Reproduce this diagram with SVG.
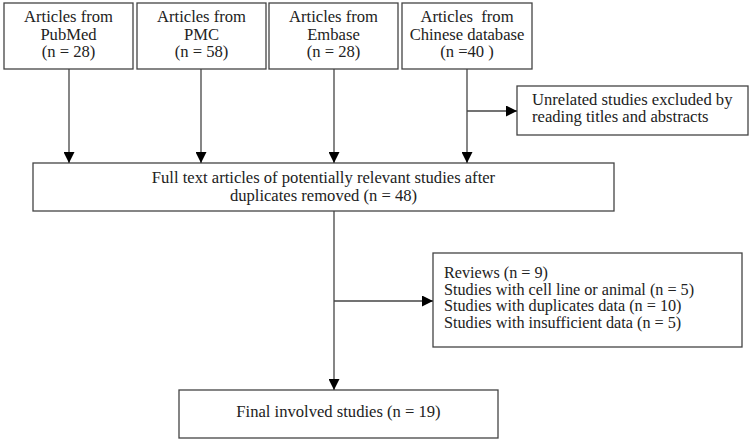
<svg xmlns="http://www.w3.org/2000/svg" width="753" height="443" viewBox="0 0 753 443">
<defs>
<marker id="ah" markerWidth="11" markerHeight="11" refX="11" refY="5.5" orient="auto" markerUnits="userSpaceOnUse">
<path d="M0,0 L11,5.5 L0,11 Z" fill="#000"/>
</marker>
<style>
rect{fill:#fff;stroke:#444;stroke-width:1.3}
text{font-family:"Liberation Serif","Times New Roman",serif;font-size:16.6px;fill:#222}
.c{text-anchor:middle}
.s{font-size:16.2px}
.ln{stroke:#444;stroke-width:1.3;fill:none}
</style>
</defs>
<rect x="0" y="0" width="753" height="443" style="fill:#fff;stroke:none"/>
<g id="pubmed"><rect x="4" y="3" width="129" height="66"/>
<text class="c" x="68.5" y="22">Articles from</text><text class="c" x="68.5" y="39.5">PubMed</text><text class="c" x="68.5" y="57">(n = 28)</text></g>
<g id="pmc"><rect x="137" y="3" width="129" height="66"/>
<text class="c" x="201.5" y="22">Articles from</text><text class="c" x="201.5" y="39.5">PMC</text><text class="c" x="201.5" y="57">(n = 58)</text></g>
<g id="embase"><rect x="269" y="3" width="129" height="66"/>
<text class="c" x="333.5" y="22">Articles from</text><text class="c" x="333.5" y="39.5">Embase</text><text class="c" x="333.5" y="57">(n = 28)</text></g>
<g id="chinese"><rect x="402" y="3" width="130" height="66"/>
<text class="c" x="467" y="22" xml:space="preserve">Articles  from</text><text class="c" x="467" y="39.5">Chinese database</text><text class="c" x="467" y="57">(n =40 )</text></g>
<g id="unrelated"><rect x="517" y="86" width="231" height="49"/>
<text x="532" y="104.5">Unrelated studies excluded by</text><text x="532" y="122">reading titles and abstracts</text></g>
<g id="fulltext"><rect x="33" y="163" width="581" height="48"/>
<text class="c" x="323.5" y="182.5">Full text articles of potentially relevant studies after</text><text class="c" x="323.5" y="200.5">duplicates removed (n = 48)</text></g>
<g id="excluded"><rect x="433" y="253" width="309" height="94"/>
<text class="s" x="444" y="278">Reviews (n = 9)</text><text class="s" x="444" y="294.5">Studies with cell line or animal (n = 5)</text><text class="s" x="444" y="311">Studies with duplicates data (n = 10)</text><text class="s" x="444" y="327.5">Studies with insufficient data (n = 5)</text></g>
<g id="final"><rect x="179" y="390" width="319" height="48"/>
<text class="c" x="338.5" y="417">Final involved studies (n = 19)</text></g>
<g id="connectors">
<line class="ln" x1="69" y1="69" x2="69" y2="163" marker-end="url(#ah)"/>
<line class="ln" x1="201" y1="69" x2="201" y2="163" marker-end="url(#ah)"/>
<line class="ln" x1="334" y1="69" x2="334" y2="163" marker-end="url(#ah)"/>
<line class="ln" x1="467" y1="69" x2="467" y2="163" marker-end="url(#ah)"/>
<line class="ln" x1="467" y1="111" x2="517" y2="111" marker-end="url(#ah)"/>
<line class="ln" x1="334" y1="211" x2="334" y2="390" marker-end="url(#ah)"/>
<line class="ln" x1="334" y1="301" x2="433" y2="301" marker-end="url(#ah)"/>
</g>
</svg>
